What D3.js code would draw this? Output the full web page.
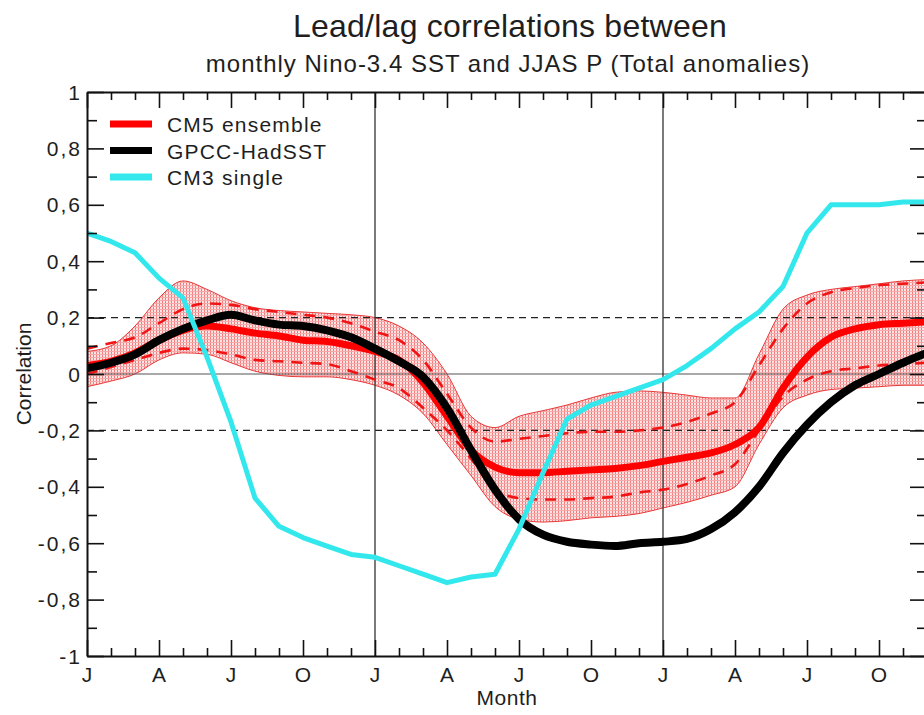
<!DOCTYPE html>
<html><head><meta charset="utf-8">
<script src="https://cdn.jsdelivr.net/npm/d3@7/dist/d3.min.js"></script>
<style>
html,body{margin:0;padding:0;background:#fff;}
svg{display:block;font-family:"Liberation Sans",Arial,Helvetica,sans-serif;}
</style></head><body>
<svg id="chart" width="924" height="715"></svg>
<script>
// Month index 0..35 (Jan year -1 ... Dec year +1)
const months = [0,1,2,3,4,5,6,7,8,9,10,11,12,13,14,15,16,17,18,19,20,21,22,23,24,25,26,27,28,29,30,31,32,33,34,35];
const xTickMonths = [0,3,6,9,12,15,18,21,24,27,30,33];
const xTickLabels = ["J","A","J","O","J","A","J","O","J","A","J","O"];
const yTickValues = [1,0.8,0.6,0.4,0.2,0,-0.2,-0.4,-0.6,-0.8,-1];
const yTickLabels = ["1","0,8","0,6","0,4","0,2","0","-0,2","-0,4","-0,6","-0,8","-1"];
const yMinorValues = [0.9,0.7,0.5,0.3,0.1,-0.1,-0.3,-0.5,-0.7,-0.9];

const cm5Mean = [0.03,0.045,0.075,0.12,0.155,0.17,0.16,0.145,0.135,0.12,0.115,0.10,0.08,0.05,-0.03,-0.15,-0.27,-0.33,-0.35,-0.35,-0.345,-0.34,-0.335,-0.325,-0.31,-0.295,-0.28,-0.25,-0.19,-0.05,0.06,0.13,0.16,0.175,0.18,0.185];
const cm5Upper = [0.09,0.11,0.13,0.18,0.23,0.25,0.245,0.23,0.22,0.21,0.20,0.18,0.15,0.12,0.05,-0.07,-0.19,-0.24,-0.23,-0.22,-0.21,-0.205,-0.205,-0.20,-0.19,-0.17,-0.14,-0.10,0.03,0.16,0.25,0.29,0.305,0.315,0.32,0.325];
const cm5Lower = [0.0,0.025,0.05,0.075,0.09,0.085,0.07,0.05,0.045,0.04,0.035,0.01,-0.02,-0.05,-0.12,-0.20,-0.30,-0.41,-0.44,-0.445,-0.445,-0.44,-0.435,-0.42,-0.41,-0.39,-0.36,-0.32,-0.20,-0.08,-0.02,0.01,0.02,0.03,0.035,0.04];
const cm5Max = [0.08,0.10,0.17,0.27,0.33,0.30,0.26,0.235,0.225,0.22,0.215,0.21,0.20,0.17,0.11,0.0,-0.15,-0.19,-0.15,-0.13,-0.11,-0.085,-0.065,-0.06,-0.065,-0.075,-0.085,-0.085,0.07,0.23,0.28,0.30,0.31,0.32,0.33,0.335];
const cm5Min = [-0.045,-0.025,0.0,0.05,0.075,0.07,0.04,0.01,-0.005,-0.01,-0.01,-0.02,-0.04,-0.075,-0.14,-0.25,-0.36,-0.47,-0.515,-0.525,-0.52,-0.51,-0.505,-0.495,-0.475,-0.455,-0.43,-0.40,-0.25,-0.12,-0.075,-0.055,-0.05,-0.045,-0.04,-0.04];
const gpcc = [0.02,0.04,0.07,0.12,0.16,0.19,0.21,0.19,0.175,0.17,0.155,0.13,0.09,0.045,-0.01,-0.12,-0.27,-0.41,-0.515,-0.57,-0.595,-0.605,-0.61,-0.60,-0.595,-0.585,-0.55,-0.49,-0.40,-0.28,-0.18,-0.10,-0.04,0.0,0.04,0.075];
const cm3 = [0.50,0.47,0.43,0.34,0.27,0.06,-0.17,-0.44,-0.54,-0.58,-0.61,-0.64,-0.65,-0.68,-0.71,-0.74,-0.72,-0.71,-0.55,-0.35,-0.16,-0.11,-0.08,-0.05,-0.02,0.03,0.09,0.16,0.22,0.31,0.50,0.60,0.60,0.60,0.61,0.61];

const legendItems = [
  {label:"CM5 ensemble", color:"#ff0000"},
  {label:"GPCC-HadSST", color:"#000000"},
  {label:"CM3 single", color:"#33e8ec"}
];

const svg = d3.select("#chart");
const x = d3.scaleLinear().domain([0,35]).range([87,927]);
const y = d3.scaleLinear().domain([-1,1]).range([656,92]);

const defs = svg.append("defs");
const pat = defs.append("pattern").attr("id","stip").attr("patternUnits","userSpaceOnUse")
  .attr("width",3).attr("height",3);
pat.append("rect").attr("width",3).attr("height",3).attr("fill","#fde4e4");
pat.append("rect").attr("x",0).attr("y",0).attr("width",1).attr("height",3).attr("fill","#f27c7c");
pat.append("rect").attr("x",0).attr("y",0).attr("width",3).attr("height",1).attr("fill","#f7a8a8");
defs.append("clipPath").attr("id","clip").append("rect")
  .attr("x",87).attr("y",92).attr("width",840).attr("height",564);

const plot = svg.append("g").attr("clip-path","url(#clip)");

// band
const area = d3.area().x((d,i)=>x(months[i])).y0((d,i)=>y(cm5Min[i])).y1((d,i)=>y(cm5Max[i])).curve(d3.curveMonotoneX);
plot.append("path").datum(months).attr("d",area).attr("fill","url(#stip)")
  .attr("stroke","#e83a3a").attr("stroke-width",1);

// reference lines
plot.append("line").attr("x1",87).attr("x2",927).attr("y1",y(0)).attr("y2",y(0)).attr("stroke","#555").attr("stroke-width",1.2);
[0.2,-0.2].forEach(v=>{
  plot.append("line").attr("x1",87).attr("x2",927).attr("y1",y(v)).attr("y2",y(v))
    .attr("stroke","#222").attr("stroke-width",1.2).attr("stroke-dasharray","7,5");
});
[12,24].forEach(m=>{
  plot.append("line").attr("x1",x(m)).attr("x2",x(m)).attr("y1",92).attr("y2",656)
    .attr("stroke","#333").attr("stroke-width",1.3);
});

const lineGen = arr => d3.line().x((d,i)=>x(months[i])).y((d,i)=>y(arr[i])).curve(d3.curveMonotoneX);

[cm5Upper, cm5Lower].forEach(arr=>{
  plot.append("path").datum(months).attr("d",lineGen(arr)).attr("fill","none")
    .attr("stroke","#f01414").attr("stroke-width",2.6).attr("stroke-dasharray","11,8");
});
plot.append("path").datum(months).attr("d",lineGen(cm5Mean)).attr("fill","none")
  .attr("stroke","#ff0000").attr("stroke-width",7);
plot.append("path").datum(months).attr("d",lineGen(gpcc)).attr("fill","none")
  .attr("stroke","#000").attr("stroke-width",8);
plot.append("path").datum(months)
  .attr("d",d3.line().x((d,i)=>x(months[i])).y((d,i)=>y(cm3[i])))
  .attr("fill","none").attr("stroke","#33e8ec").attr("stroke-width",5).attr("stroke-linejoin","round");

// axes (ticks inward)
const txtColor = "#1e1e1e";
function styleAxis(g){ g.select(".domain").attr("stroke","#111").attr("stroke-width",2); g.selectAll(".tick line").attr("stroke","#111").attr("stroke-width",1.6); }

// left
const gl = svg.append("g").attr("transform","translate(87,0)")
  .call(d3.axisRight(y).tickValues(yTickValues).tickSize(17).tickFormat("").tickSizeOuter(0));
styleAxis(gl);
const glm = svg.append("g").attr("transform","translate(87,0)")
  .call(d3.axisRight(y).tickValues(yMinorValues).tickSize(10).tickFormat("").tickSizeOuter(0));
styleAxis(glm); glm.select(".domain").remove();
svg.append("g").selectAll("text").data(yTickValues).join("text")
  .attr("x",82).attr("y",d=>y(d)).attr("dy","0.36em").attr("text-anchor","end")
  .attr("font-size","21px").attr("fill",txtColor).attr("letter-spacing","2")
  .text((d,i)=>yTickLabels[i]);

// right
const gr = svg.append("g").attr("transform","translate(927,0)")
  .call(d3.axisLeft(y).tickValues(yTickValues).tickSize(17).tickFormat("").tickSizeOuter(0));
styleAxis(gr);
const grm = svg.append("g").attr("transform","translate(927,0)")
  .call(d3.axisLeft(y).tickValues(yMinorValues).tickSize(10).tickFormat("").tickSizeOuter(0));
styleAxis(grm); grm.select(".domain").remove();

// bottom
const gb = svg.append("g").attr("transform","translate(0,656)")
  .call(d3.axisTop(x).tickValues(xTickMonths).tickSize(16).tickFormat("").tickSizeOuter(0));
styleAxis(gb);
const gbm = svg.append("g").attr("transform","translate(0,656)")
  .call(d3.axisTop(x).tickValues(months.filter(m=>m%3!==0)).tickSize(8).tickFormat("").tickSizeOuter(0));
styleAxis(gbm); gbm.select(".domain").remove();
svg.append("g").selectAll("text").data(xTickMonths).join("text")
  .attr("x",d=>x(d)).attr("y",682).attr("text-anchor","middle")
  .attr("font-size","21px").attr("fill",txtColor)
  .text((d,i)=>xTickLabels[i]);

// top
const gt = svg.append("g").attr("transform","translate(0,92)")
  .call(d3.axisBottom(x).tickValues(xTickMonths).tickSize(16).tickFormat("").tickSizeOuter(0));
styleAxis(gt);
const gtm = svg.append("g").attr("transform","translate(0,92)")
  .call(d3.axisBottom(x).tickValues(months.filter(m=>m%3!==0)).tickSize(8).tickFormat("").tickSizeOuter(0));
styleAxis(gtm); gtm.select(".domain").remove();

// axis titles
svg.append("text").attr("x",507).attr("y",705).attr("text-anchor","middle")
  .attr("font-size","21px").attr("letter-spacing","0.5").attr("fill",txtColor).text("Month");
svg.append("text").attr("transform","translate(31,374) rotate(-90)").attr("text-anchor","middle")
  .attr("font-size","21px").attr("fill",txtColor).text("Correlation");

// titles
svg.append("text").attr("x",510).attr("y",37).attr("text-anchor","middle")
  .attr("font-size","32px").attr("letter-spacing","0.25").attr("fill",txtColor).text("Lead/lag correlations between");
svg.append("text").attr("x",508).attr("y",72).attr("text-anchor","middle")
  .attr("font-size","24px").attr("letter-spacing","1").attr("fill",txtColor).text("monthly Nino-3.4 SST and JJAS P (Total anomalies)");

// legend
const lg = svg.append("g");
legendItems.forEach((it,i)=>{
  const yy = 124 + i*26.5;
  lg.append("line").attr("x1",110).attr("x2",152).attr("y1",yy).attr("y2",yy)
    .attr("stroke",it.color).attr("stroke-width",7);
  lg.append("text").attr("x",167).attr("y",yy+8).attr("font-size","21px").attr("letter-spacing","1.2")
    .attr("fill",txtColor).text(it.label);
});
</script>
</body></html>
